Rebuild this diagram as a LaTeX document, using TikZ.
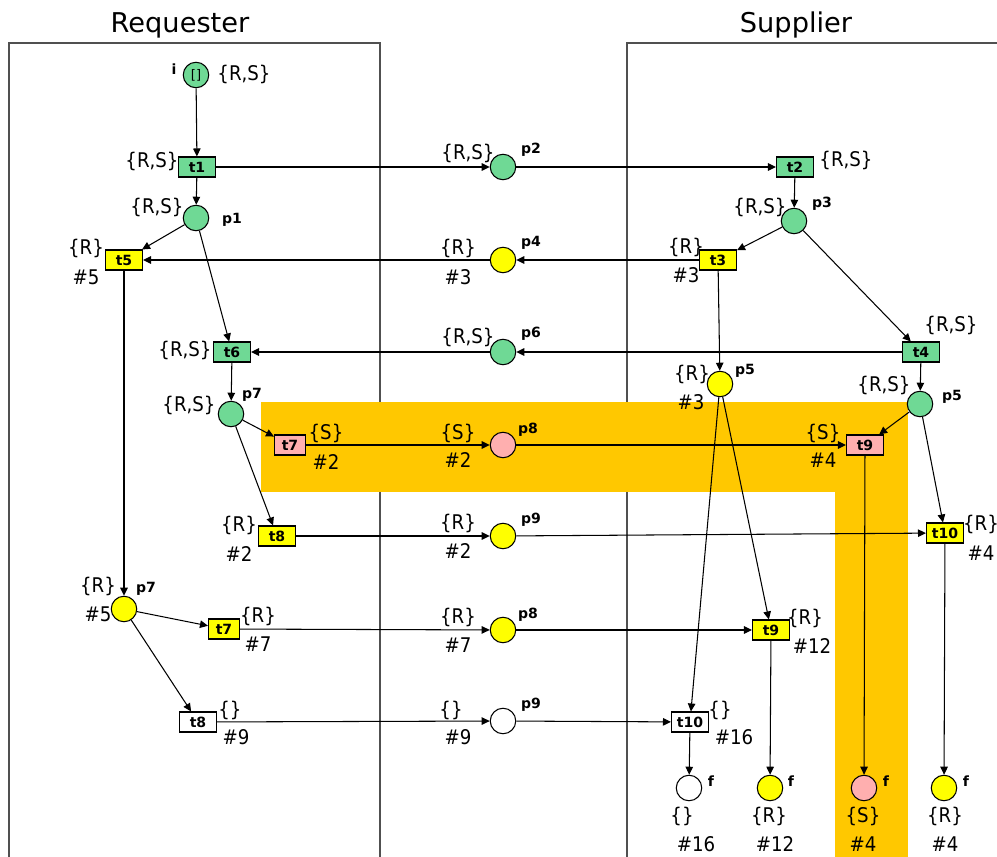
\documentclass[tikz,border=0pt]{standalone}
\usepackage{fontspec}
\setmainfont{DejaVu Sans}
\newfontfamily\lblfont[FakeStretch=0.9]{DejaVu Sans}
\definecolor{petriGreen}{HTML}{6FD995}
\definecolor{petriPink}{HTML}{FFAFAF}
\definecolor{petriYellow}{HTML}{FFFF00}
\definecolor{petriBand}{HTML}{FFC800}
\definecolor{petriLane}{HTML}{505050}
\usepackage{tikz}
\usetikzlibrary{arrows.meta}
\tikzset{
	plc/.style={circle, draw, line width=0.6pt, minimum size=0.51cm, inner sep=0pt},
	trn/.style={rectangle, draw, line width=0.6pt, minimum height=0.4cm, inner sep=0pt, font=\fontsize{8}{9}\selectfont\bfseries},
	flow/.style={-{Triangle[length=1.6mm,width=1.5mm]}, line width=0.6pt},
	setlbl/.style={font=\lblfont\fontsize{11.5}{13}\selectfont, inner sep=0pt},
	idlbl/.style={font=\fontsize{8}{9}\selectfont\bfseries, inner sep=0pt},
	lane/.style={draw=petriLane, line width=0.7pt}
}

\begin{document}
\begin{tikzpicture}[x=0.02cm, y=-0.02cm]
		\useasboundingbox (0,0) rectangle (997,857);
		\node[font=\fontsize{15.5}{18}\selectfont, anchor=base] (req) at (180,33) {Requester};
		\node[font=\fontsize{15.5}{18}\selectfont, anchor=base] (sup) at (796,33) {Supplier};
		\draw[lane] (9,857) -- (9,43) -- (380,43) -- (380,857);
		\draw[lane] (997,43) -- (627,43) -- (627,857);
		\fill[petriBand] (261,402) rectangle (908,492);
		\fill[petriBand] (835,492) rectangle (908,857);
		\node[plc, fill=petriGreen, font=\fontsize{7.5}{8}\selectfont] (pi) at (196,75) {[]};
		\foreach \n/\x/\y/\c in {p1/196/218/petriGreen, p2/503/167/petriGreen, p3/794/221/petriGreen, p4/503/260/petriYellow, p6/503/352/petriGreen, p5y/720/384/petriYellow, p7g/231/414/petriGreen, p5g/920/404/petriGreen, p8r/503/445/petriPink, p9y/503/536/petriYellow, p7y/124/609/petriYellow, p8y/503/630/petriYellow, p9w/503/721/white, fw/689/788/white, fy1/770/788/petriYellow, fr/864/788/petriPink, fy2/944/788/petriYellow}{
			\node[plc, fill=\c] (\n) at (\x,\y) {};
		}
		\foreach \n/\x/\y/\c/\w/\t in {t1/197/167/petriGreen/0.74/t1, t5/124/260/petriYellow/0.74/t5, t2/795/167/petriGreen/0.74/t2, t3/718/260/petriYellow/0.74/t3, t4/921/352/petriGreen/0.74/t4, t6/232/352/petriGreen/0.74/t6, t7r/290/445/petriPink/0.62/t7, t9r/865/445/petriPink/0.74/t9, t8y/277/536/petriYellow/0.74/t8, t10y/945/533/petriYellow/0.74/t10, t7y/224/629/petriYellow/0.62/t7, t9y/771/630/petriYellow/0.74/t9, t8w/198/722/white/0.74/t8, t10w/690/722/white/0.74/t10}{
			\node[trn, fill=\c, minimum width=\w cm] (\n) at (\x,\y) {\t};
		}
		\foreach \a/\b in {pi/t1, t1/p1, t1/p2, p2/t2, t2/p3, p3/t3, p3/t4, t3/p4, p4/t5, p1/t5, p1/t6, t4/p6, p6/t6, t3/p5y, t4/p5g, t6/p7g, p7g/t7r, p7g/t8y, t7r/p8r, p8r/t9r, p5g/t9r, p5g/t10y, t8y/p9y, p9y/t10y, t5/p7y, p7y/t7y, p7y/t8w, t7y/p8y, p8y/t9y, p5y/t9y, p5y/t10w, t8w/p9w, p9w/t10w, t10w/fw, t9y/fy1, t9r/fr, t10y/fy2}{
			\draw[flow] (\a) -- (\b);
		}
		\foreach \n/\x/\y/\t in {pi-s/244/74/{\{R,S\}}, t1-s/152/161/{\{R,S\}}, p1-s/157/207/{\{R,S\}}, t5-s/86/248/{\{R\}}, t5-c/86/277/{\#5}, p2-s/468/153/{\{R,S\}}, t2-s/846/160/{\{R,S\}}, p3-s/760/207/{\{R,S\}}, t3-s/686/247/{\{R\}}, t3-c/686/275/{\#3}, p4-s/458/248/{\{R\}}, p4-c/458/277/{\#3}, t4-s/951/325/{\{R,S\}}, p6-s/468/337/{\{R,S\}}, t6-s/185/350/{\{R,S\}}, p5y-s/692/374/{\{R\}}, p5y-c/691/402/{\#3}, p7g-s/189/405/{\{R,S\}}, p5g-s/884/385/{\{R,S\}}, t7r-s/326/433/{\{S\}}, t7r-c/326/462/{\#2}, p8r-s/458/433/{\{S\}}, p8r-c/458/460/{\#2}, t9r-s/823/433/{\{S\}}, t9r-c/823/460/{\#4}, t8y-s/239/525/{\{R\}}, t8y-c/239/554/{\#2}, p9y-s/458/523/{\{R\}}, p9y-c/458/551/{\#2}, t10y-s/981/524/{\{R\}}, t10y-c/981/553/{\#4}, p7y-s/98/586/{\{R\}}, p7y-c/98/614/{\#5}, t7y-s/258/616/{\{R\}}, t7y-c/258/644/{\#7}, p8y-s/458/617/{\{R\}}, p8y-c/458/645/{\#7}, t9y-s/805/618/{\{R\}}, t9y-c/812/646/{\#12}, t8w-s/230/710/{\{\}}, t8w-c/236/737/{\#9}, p9w-s/451/710/{\{\}}, p9w-c/458/737/{\#9}, t10w-s/720/710/{\{\}}, t10w-c/734/737/{\#16}, fw-s/682/816/{\{\}}, fw-c/696/844/{\#16}, fy1-s/769/816/{\{R\}}, fy1-c/775/844/{\#12}, fr-s/863/816/{\{S\}}, fr-c/863/844/{\#4}, fy2-s/945/816/{\{R\}}, fy2-c/945/844/{\#4}}{
			\node[setlbl] (\n) at (\x,\y) {\t};
		}
		\foreach \n/\x/\y/\t in {pi-n/174/69/i, p1-n/232/220/p1, p2-n/531/150/p2, p3-n/822/204/p3, p4-n/531/243/p4, p6-n/531/334/p6, p5y-n/745/371/p5, p7g-n/252/395/p7, p5g-n/952/397/p5, p8r-n/528/430/p8, p9y-n/531/520/p9, p7y-n/146/589/p7, p8y-n/528/615/p8, p9w-n/531/705/p9, fw-n/711/781/f, fy1-n/791/781/f, fr-n/886/781/f, fy2-n/966/781/f}{
			\node[idlbl] (\n) at (\x,\y) {\t};
		}
	\end{tikzpicture}
\end{document}
